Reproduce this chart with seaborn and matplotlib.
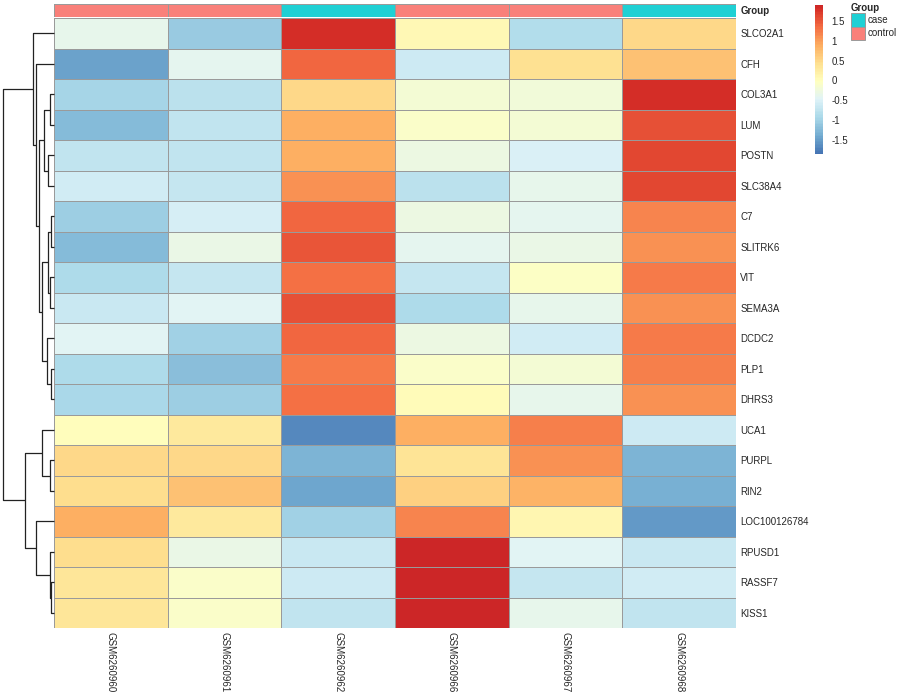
import numpy as np
import pandas as pd
import matplotlib
matplotlib.use("Agg")
import matplotlib.pyplot as plt
import seaborn as sns
from matplotlib.colors import ListedColormap
from matplotlib.patches import Patch

# samples (columns) and their group
samples = ["GSM6260960", "GSM6260961", "GSM6260962", "GSM6260966", "GSM6260967", "GSM6260968"]
groups = ["control", "control", "case", "control", "control", "case"]

# genes (rows), in clustered order
genes = ["SLCO2A1", "CFH", "COL3A1", "LUM", "POSTN", "SLC38A4", "C7", "SLITRK6", "VIT",
         "SEMA3A", "DCDC2", "PLP1", "DHRS3", "UCA1", "PURPL", "RIN2", "LOC100126784",
         "RPUSD1", "RASSF7", "KISS1"]

# row-scaled expression (z-score)
zscores = [
    [-0.38, -1.08,  1.81,  0.07, -0.85,  0.48],
    [-1.44, -0.39,  1.40, -0.62,  0.40,  0.70],
    [-0.98, -0.80,  0.50, -0.20, -0.22,  1.80],
    [-1.25, -0.75,  0.85, -0.11, -0.20,  1.55],
    [-0.73, -0.73,  0.87, -0.30, -0.52,  1.62],
    [-0.60, -0.70,  1.10, -0.78, -0.36,  1.60],
    [-1.03, -0.57,  1.38, -0.30, -0.39,  1.15],
    [-1.22, -0.35,  1.52, -0.42, -0.34,  1.08],
    [-0.90, -0.70,  1.33, -0.70, -0.08,  1.24],
    [-0.66, -0.43,  1.54, -0.89, -0.38,  1.08],
    [-0.45, -1.00,  1.38, -0.31, -0.60,  1.24],
    [-0.90, -1.21,  1.24, -0.10, -0.17,  1.22],
    [-0.95, -1.05,  1.33,  0.06, -0.37,  1.10],
    [ 0.00,  0.30, -1.69,  0.85,  1.21, -0.64],
    [ 0.48,  0.50, -1.30,  0.39,  1.10, -1.30],
    [ 0.46,  0.71, -1.42,  0.58,  0.82, -1.35],
    [ 0.85,  0.30, -1.00,  1.15,  0.10, -1.55],
    [ 0.45, -0.32, -0.66,  1.90, -0.44, -0.66],
    [ 0.33, -0.11, -0.62,  1.90, -0.70, -0.60],
    [ 0.33, -0.11, -0.76,  1.90, -0.38, -0.76],
]

# row dendrogram merges: (child a, child b, height); ids >= 20 are earlier merges
row_merges = [
    (2, 3, 4.5), (4, 5, 5.8), (20, 21, 10.2),
    (6, 7, 3.5), (8, 9, 4.5), (23, 24, 6.2),
    (11, 12, 3.5), (10, 26, 6.8), (25, 27, 11.8),
    (22, 28, 15.2), (1, 29, 17.8), (0, 30, 21.2),
    (14, 15, 4.5), (13, 32, 11.8),
    (18, 19, 2.8), (17, 34, 4.0), (16, 35, 18.5),
    (33, 36, 29.5), (31, 37, 51.5),
]

cbar_ticks = [-1.5, -1, -0.5, 0, 0.5, 1, 1.5]
group_colors = {"case": "#1FD0D4", "control": "#F9807A"}

sns.set_theme(style="white")
plt.rcParams["font.family"] = ["Liberation Sans", "DejaVu Sans"]

W, H = 900, 700
fig = plt.figure(figsize=(9, 7), dpi=100)

def px_axes(x0, y0, x1, y1):
    return fig.add_axes([x0 / W, 1 - y1 / H, (x1 - x0) / W, (y1 - y0) / H])

ax = px_axes(54, 18, 736, 628)
ax_ann = px_axes(54, 4, 736, 17)
ax_den = px_axes(0, 18, 54, 628)
cax = px_axes(815, 5, 823, 154)

# colour ramp like pheatmap's RdYlBu
base = matplotlib.colormaps["RdYlBu_r"]
cmap = ListedColormap(base(np.linspace(0.1, 0.92, 100)))

df = pd.DataFrame(zscores, index=genes, columns=samples)
sns.heatmap(df, ax=ax, cmap=cmap, vmin=-1.85, vmax=1.9, linewidths=0.7,
            linecolor="#9a9a9a", cbar_ax=cax, cbar_kws={"ticks": cbar_ticks},
            xticklabels=True, yticklabels=True)

ax.yaxis.tick_right()
ax.set_yticklabels(genes, rotation=0, fontsize=7, ha="left")
ax.set_xticklabels(samples, rotation=270, fontsize=7, ha="center", va="top")
ax.tick_params(length=0, pad=3)
ax.set_xlabel("")
ax.set_ylabel("")

cbar = ax.collections[0].colorbar
cbar.outline.set_visible(False)
cbar.ax.set_yticklabels(["-1.5", "-1", "-0.5", "0", "0.5", "1", "1.5"])
cbar.ax.tick_params(length=0, labelsize=7, pad=6)

# annotation bar
codes = pd.DataFrame([[0 if g == "case" else 1 for g in groups]], index=["Group"], columns=samples)
sns.heatmap(codes, ax=ax_ann, cmap=ListedColormap([group_colors["case"], group_colors["control"]]),
            vmin=0, vmax=1, linewidths=0.7, linecolor="#9a9a9a", cbar=False,
            xticklabels=False, yticklabels=True)
ax_ann.yaxis.tick_right()
ax_ann.set_yticklabels(["Group"], rotation=0, fontsize=7, fontweight="bold", ha="left")
ax_ann.tick_params(length=0, pad=3)
ax_ann.set_xlabel("")
ax_ann.set_ylabel("")

# row dendrogram
n = len(genes)
pos = {i: (i + 0.5, 0.0) for i in range(n)}
for k, (a, b, h) in enumerate(row_merges):
    ya, ha_ = pos[a]
    yb, hb = pos[b]
    ax_den.plot([ha_, h, h, hb], [ya, ya, yb, yb], color="#222222", lw=0.9,
                solid_capstyle="butt", clip_on=False)
    pos[n + k] = ((ya + yb) / 2, h)
ax_den.set_xlim(54, 0)
ax_den.set_ylim(n, 0)
ax_den.axis("off")

# group legend
handles = [Patch(facecolor=group_colors[g], edgecolor="#9a9a9a", linewidth=0.7, label=g)
           for g in ["case", "control"]]
leg = fig.legend(handles=handles, title="Group", loc="upper left",
                 bbox_to_anchor=(851 / W, 1 - 3 / H), frameon=False, fontsize=7,
                 handlelength=1.45, handleheight=1.76, handletextpad=0.3,
                 labelspacing=0.0, borderpad=0.0, borderaxespad=0.0, alignment="left",
                 title_fontproperties={"weight": "bold", "size": 7})

fig.savefig("out.png", dpi=100)
